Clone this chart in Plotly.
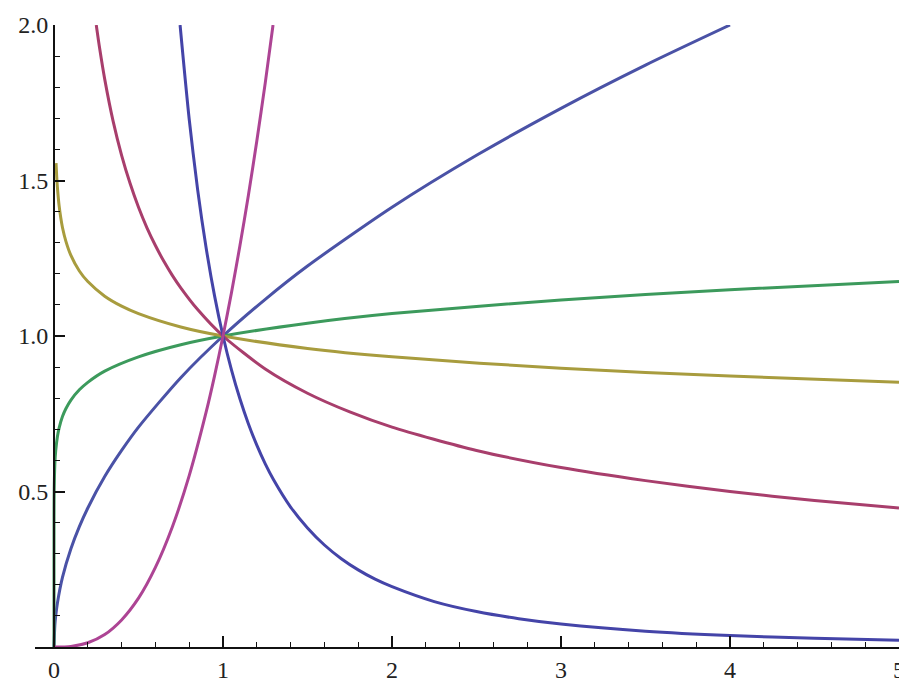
import plotly.graph_objects as go

# Values
sqrt_x = [0, 0.005, 0.01, 0.02, 0.05, 0.1, 0.15, 0.2, 0.3, 0.4, 0.5, 0.75, 1, 1.25, 1.5, 2, 2.5, 3, 3.5, 4]
sqrt_y = [0, 0.07, 0.1, 0.141, 0.224, 0.316, 0.387, 0.447, 0.548, 0.632, 0.707, 0.866, 1, 1.118, 1.225, 1.414, 1.581, 1.732, 1.871, 2.0]

green_x = [0, 0.000001, 0.0001, 0.0003, 0.001, 0.005, 0.01, 0.02, 0.03, 0.05, 0.07, 0.1, 0.15, 0.2, 0.3, 0.5, 0.75, 1, 1.5, 2, 3, 4, 5]
green_y = [0, 0.25, 0.40, 0.444, 0.501, 0.589, 0.631, 0.676, 0.704, 0.741, 0.766, 0.794, 0.827, 0.851, 0.887, 0.933, 0.972, 1, 1.041, 1.072, 1.116, 1.149, 1.175]

yellow_x = [0.012, 0.016, 0.02, 0.03, 0.04, 0.05, 0.07, 0.1, 0.15, 0.2, 0.3, 0.4, 0.5, 0.75, 1, 1.5, 2, 3, 4, 5]
yellow_y = [1.556, 1.512, 1.479, 1.420, 1.380, 1.349, 1.305, 1.259, 1.209, 1.175, 1.128, 1.096, 1.072, 1.029, 1, 0.960, 0.933, 0.896, 0.871, 0.851]

red_x = [0.25, 0.27, 0.3, 0.35, 0.4, 0.45, 0.5, 0.55, 0.6, 0.65, 0.7, 0.75, 0.85, 1, 1.25, 1.5, 1.75, 2, 2.5, 3, 3.5, 4, 4.5, 5]
red_y = [2.0, 1.925, 1.826, 1.690, 1.581, 1.491, 1.414, 1.348, 1.291, 1.240, 1.195, 1.155, 1.085, 1, 0.894, 0.816, 0.756, 0.707, 0.632, 0.577, 0.535, 0.5, 0.471, 0.447]

steep_dn_x = [0.746, 0.8, 0.85, 0.9, 0.95, 1, 1.05, 1.1, 1.15, 1.2, 1.25, 1.3, 1.4, 1.5, 1.6, 1.7, 1.8, 1.9, 2, 2.25, 2.5, 2.75, 3, 3.5, 4, 4.5, 5]
steep_dn_y = [2.0, 1.697, 1.470, 1.284, 1.129, 1, 0.891, 0.798, 0.718, 0.649, 0.589, 0.537, 0.450, 0.383, 0.328, 0.284, 0.248, 0.218, 0.194, 0.146, 0.114, 0.091, 0.074, 0.051, 0.037, 0.028, 0.022]

steep_up_x = [0, 0.1, 0.2, 0.3, 0.4, 0.5, 0.6, 0.7, 0.8, 0.9, 0.95, 1, 1.05, 1.1, 1.15, 1.2, 1.25, 1.296]
steep_up_y = [0, 0.002, 0.0136, 0.040, 0.087, 0.157, 0.256, 0.386, 0.551, 0.755, 0.872, 1, 1.139, 1.290, 1.452, 1.627, 1.814, 2.0]

x_ticks = [0, 1, 2, 3, 4, 5]
y_ticks = [0.5, 1.0, 1.5, 2.0]

series = [
    (sqrt_x, sqrt_y, "#4a52a6"),
    (green_x, green_y, "#3c9a5c"),
    (yellow_x, yellow_y, "#a89c3e"),
    (red_x, red_y, "#a83e6c"),
    (steep_dn_x, steep_dn_y, "#4444a8"),
    (steep_up_x, steep_up_y, "#ad4494"),
]

fig = go.Figure()
for xs, ys, col in series:
    fig.add_trace(go.Scatter(x=xs, y=ys, mode="lines",
                             line=dict(color=col, width=3, shape="spline", smoothing=0.7),
                             showlegend=False, hoverinfo="skip"))

# page body has an 8px margin, so the figure is offset by 8px
W, H = 899, 678
left, right, top, bottom = 27, 8, 17, 39
x0 = -0.1125
yaxis_pos = (0 - x0) / (5 - x0)

font = dict(family="Liberation Serif, Times New Roman, serif", size=24, color="#222")
axcol = "#111"

fig.update_layout(
    width=W, height=H,
    margin=dict(l=left, r=right, t=top, b=bottom, autoexpand=False),
    paper_bgcolor="white", plot_bgcolor="white",
    xaxis=dict(range=[x0, 5], showgrid=False, zeroline=False, showline=True, linecolor=axcol, linewidth=2,
               tickvals=x_ticks, ticktext=[str(v) for v in x_ticks], ticks="inside", ticklen=11, tickwidth=1.6,
               tickcolor=axcol, tickfont=font,
               minor=dict(dtick=0.2, tick0=0, ticks="inside", ticklen=5, tickwidth=1.3, tickcolor=axcol),
               automargin=False, domain=[0, 1]),
    yaxis=dict(range=[0, 2], showgrid=False, zeroline=False, showline=True, linecolor=axcol, linewidth=2,
               anchor="free", position=yaxis_pos,
               tickvals=y_ticks, ticktext=["%.1f" % v for v in y_ticks], ticks="inside", ticklen=10, tickwidth=1.6,
               tickcolor=axcol, tickfont=font,
               minor=dict(dtick=0.1, tick0=0, ticks="inside", ticklen=5, tickwidth=1.3, tickcolor=axcol),
               automargin=False),
)

fig.write_html("out.html")
